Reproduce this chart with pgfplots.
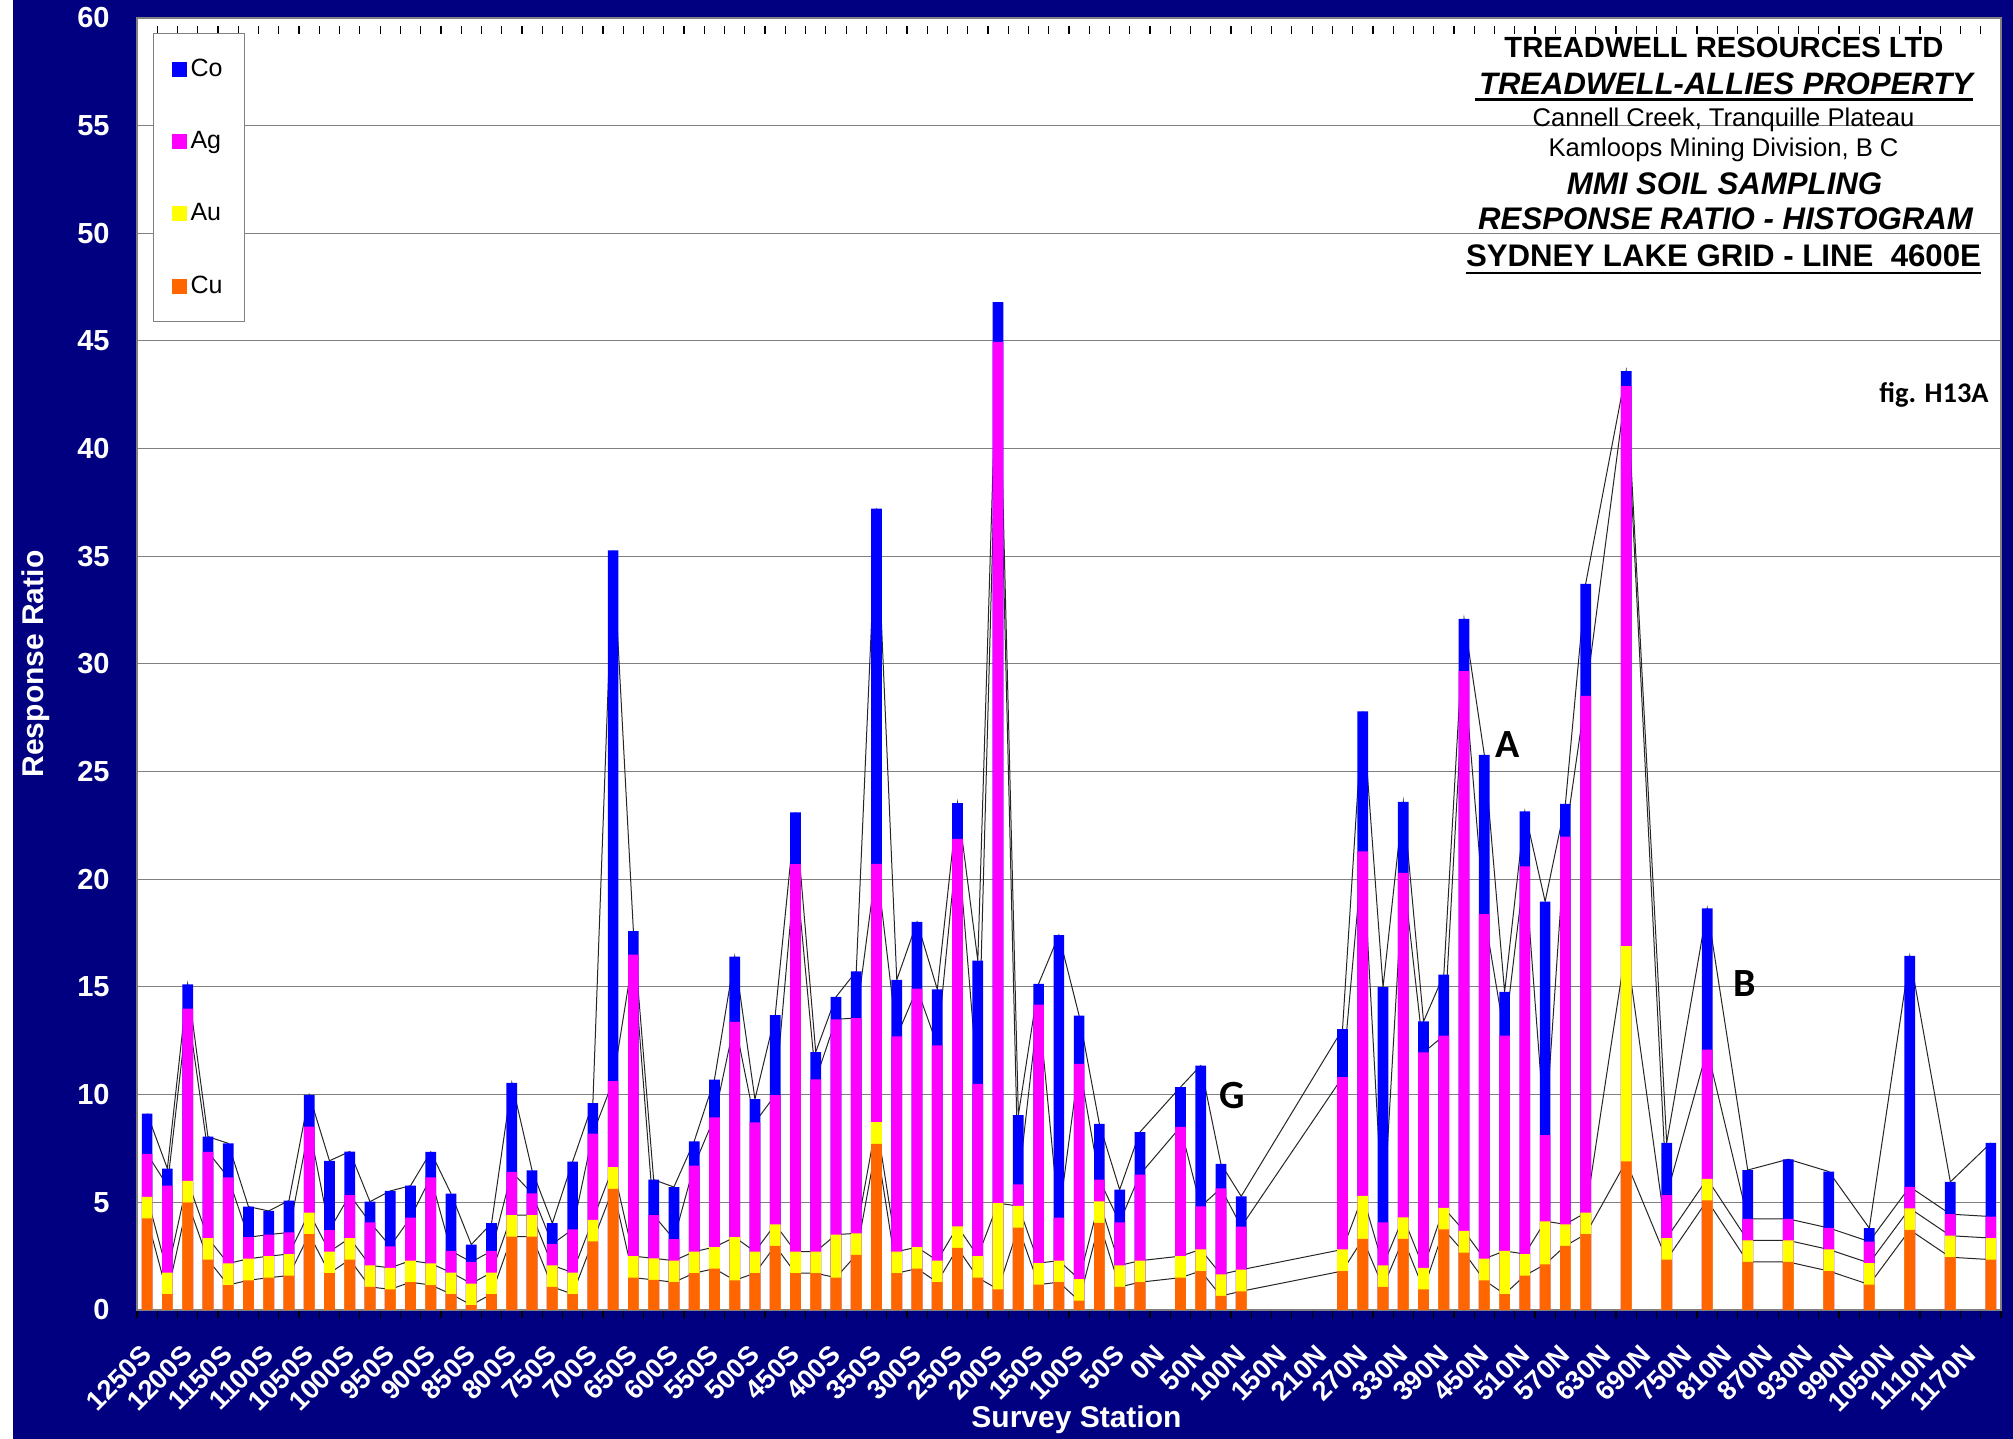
\documentclass[border=0pt]{standalone}
\usepackage{fontspec}
\setmainfont{Liberation Sans}
\newfontfamily\calibri{Carlito}
\usepackage{pgfplots}
\usepackage{pgfplotstable}
\pgfplotsset{compat=1.18}

\definecolor{navybg}{HTML}{000080}
\definecolor{co}{HTML}{0000FF}
\definecolor{ag}{HTML}{FF00FF}
\definecolor{au}{HTML}{FFFF00}
\definecolor{cu}{HTML}{FF6600}
\definecolor{gridgray}{HTML}{808080}

% x = station index (0 = 1250S ... 91 = 1200N), segment values per element
\pgfplotstableread{
x  cu   au   ag    co
0  4.25 1.0  2.0   1.87
1  0.74 1.0  4.03  0.80
2  5.00 1.0  8.0   1.12
3  2.34 1.0  4.0   0.71
4  1.16 1.0  4.0   1.58
5  1.38 1.0  1.0   1.42
6  1.50 1.0  1.0   1.10
7  1.60 1.0  1.0   1.48
8  3.52 1.0  4.0   1.47
9  1.71 1.0  1.0   3.22
10 2.34 1.0  2.0   2.02
11 1.07 1.0  2.0   0.96
12 0.96 1.0  1.0   2.57
13 1.29 1.0  2.0   1.48
14 1.16 1.0  4.0   1.18
15 0.74 1.0  1.0   2.66
16 0.23 1.0  1.0   0.81
17 0.74 1.0  1.0   1.29
18 3.41 1.0  2.0   4.14
19 3.41 1.0  1.0   1.07
20 1.07 1.0  1.0   0.96
21 0.74 1.0  2.0   3.15
22 3.19 1.0  4.0   1.42
23 5.63 1.0  4.0   24.65
24 1.50 1.0  14.0  1.10
25 1.40 1.0  2.0   1.65
26 1.29 1.0  1.0   2.42
27 1.71 1.0  4.0   1.12
28 1.92 1.0  6.03  1.75
29 1.38 2.0  10.0  3.03
30 1.71 1.0  6.0   1.08
31 2.98 1.0  6.0   3.71
32 1.71 1.0  18.0  2.40
33 1.71 1.0  8.0   1.27
34 1.50 2.0  10.0  1.04
35 2.56 1.0  10.0  2.17
36 7.72 1.0  12.0  16.5
37 1.71 1.0  10.0  2.62
38 1.92 1.0  12.0  3.10
39 1.29 1.0  10.0  2.60
40 2.88 1.0  18.0  1.66
41 1.50 1.0  8.0   5.72
42 0.96 4.0  40.0  1.85
43 3.83 1.0  1.0   3.22
44 1.18 1.0  12.0  0.97
45 1.29 1.0  2.0   13.12
46 0.43 1.0  10.0  2.24
47 4.05 1.0  1.0   2.59
48 1.07 1.0  2.0   1.52
49 1.29 1.0  4.0   1.97
51 1.50 1.0  6.0   1.85
52 1.81 1.0  2.0   6.54
53 0.65 1.0  4.0   1.13
54 0.87 1.0  2.0   1.41
59 1.81 1.0  8.0   2.23
60 3.30 2.0  16.0  6.50
61 1.07 1.0  2.0   10.92
62 3.30 1.0  16.0  3.30
63 0.96 1.0  10.0  1.44
64 3.74 1.0  8.0   2.83
65 2.67 1.0  26.0  2.42
66 1.38 1.0  16.0  7.40
67 0.74 2.0  10.0  2.03
68 1.60 1.0  18.0  2.55
69 2.12 2.0  4.0   10.85
70 2.98 1.0  18.0  1.52
71 3.52 1.0  24.0  5.20
73 6.90 10.0 26.0  0.70
75 2.34 1.0  2.0   2.42
77 5.09 1.0  6.0   6.56
79 2.23 1.0  1.0   2.27
81 2.23 1.0  1.0   2.77
83 1.81 1.0  1.0   2.62
85 1.18 1.0  1.0   0.62
87 3.72 1.0  1.0   10.73
89 2.45 1.0  1.0   1.50
91 2.34 1.0  1.0   3.42
}\stations

\begin{document}
\begin{tikzpicture}
\path[use as bounding box, fill=white] (0,0) rectangle (1006.5pt,719.5pt);
\fill[navybg] (6.5pt,0) rectangle (1006.5pt,719.5pt);

\begin{axis}[
    at={(68.5pt,64.5pt)}, anchor=south west,
    scale only axis,
    width=932pt, height=646pt,
    xmin=-0.5, xmax=91.5,
    ymin=0, ymax=60,
    axis background/.style={fill=white},
    axis line style={gridgray, line width=1pt},
    no markers,
    ytick={0,5,...,60},
    ytick style={draw=none},
    ymajorgrids=true,
    major grid style={gridgray, line width=0.5pt},
    xtick={0,2,...,90},
    xticklabels={1250S,1200S,1150S,1100S,1050S,1000S,950S,900S,850S,800S,750S,700S,650S,600S,550S,500S,450S,400S,350S,300S,250S,200S,150S,100S,50S,0N,50N,100N,150N,210N,270N,330N,390N,450N,510N,570N,630N,690N,750N,810N,870N,930N,990N,1050N,1110N,1170N},
    major x tick style={draw=none},
    minor xtick={-0.5,0.5,...,91.5},
    minor tick length=4pt,
    minor x tick style={black, line width=0.6pt, yshift=-4pt},
    /pgf/number format/assume math mode=true,
    ticklabel style={font=\bfseries\fontsize{14.5}{16}\selectfont, text=white, inner sep=0pt},
    yticklabel style={xshift=-13.5pt},
    xticklabel style={font=\bfseries\fontsize{13.6}{15}\selectfont, xshift=0pt, yshift=-20pt, rotate=45, anchor=east},
    xlabel={Survey Station},
    ylabel={Response Ratio},
    label style={font=\bfseries\fontsize{15}{17}\selectfont, text=white, inner sep=0pt},
    xlabel style={at={(axis description cs:0.504,-0.0913)}, anchor=base},
    ylabel style={at={(axis description cs:-0.0542,0.5)}, anchor=center},
    legend image code/.code={\fill[#1] (0pt,-3.75pt) rectangle (7.5pt,3.75pt);},
    legend cell align=left,
    legend style={at={(rel axis cs:0.0086,0.988)}, anchor=north west,
        draw=gridgray, line width=0.5pt, fill=white,
        font=\fontsize{12.5}{14}\selectfont,
        inner xsep=9pt, inner ysep=10.5pt, row sep=22pt},
]

% series lines joining the segment tops
\addplot[forget plot, black!85, line width=0.5pt] table[x=x, y=cu] {\stations};
\addplot[forget plot, black!85, line width=0.5pt] table[x=x, y expr=\thisrow{cu}+\thisrow{au}] {\stations};
\addplot[forget plot, black!85, line width=0.5pt] table[x=x, y expr=\thisrow{cu}+\thisrow{au}+\thisrow{ag}] {\stations};
\addplot[forget plot, black!85, line width=0.5pt] table[x=x, y expr=\thisrow{cu}+\thisrow{au}+\thisrow{ag}+\thisrow{co}] {\stations};

% stacked bars drawn as overlapping cumulative bars
\addplot[ybar, bar width=5.35pt, bar shift=0pt, fill=co, draw=none]
    table[x=x, y expr=\thisrow{cu}+\thisrow{au}+\thisrow{ag}+\thisrow{co}] {\stations};
\addlegendentry{Co}
\addplot[ybar, bar width=5.35pt, bar shift=0pt, fill=ag, draw=none]
    table[x=x, y expr=\thisrow{cu}+\thisrow{au}+\thisrow{ag}] {\stations};
\addlegendentry{Ag}
\addplot[ybar, bar width=5.35pt, bar shift=0pt, fill=au, draw=none]
    table[x=x, y expr=\thisrow{cu}+\thisrow{au}] {\stations};
\addlegendentry{Au}
\addplot[ybar, bar width=5.35pt, bar shift=0pt, fill=cu, draw=none]
    table[x=x, y=cu] {\stations};
\addlegendentry{Cu}

\node[font=\calibri\bfseries\fontsize{20}{22}\selectfont, inner sep=0pt] at (axis cs:67.17,26.24) {A};
\node[font=\calibri\bfseries\fontsize{20}{22}\selectfont, inner sep=0pt] at (axis cs:78.87,15.14) {B};
\node[font=\calibri\bfseries\fontsize{20}{22}\selectfont, inner sep=0pt] at (axis cs:53.55,9.94) {G};
\end{axis}

% title block, positions in reference pixels
\begin{scope}[x=0.5pt, y=-0.5pt, yshift=719.5pt, every node/.style={inner sep=0pt}]
\node[anchor=base, font=\bfseries\fontsize{14.6}{16}\selectfont] at (1724,58) {TREADWELL RESOURCES LTD};
\node[anchor=base, font=\bfseries\itshape\fontsize{15.5}{17}\selectfont] (t2) at (1726,95) {TREADWELL-ALLIES PROPERTY};
\draw[line width=1.3pt] ([xshift=-2pt,yshift=-2.2pt]t2.base west) -- ([yshift=-2.2pt]t2.base east);
\node[anchor=base, font=\fontsize{12.8}{14}\selectfont] at (1723.5,127) {Cannell Creek, Tranquille Plateau};
\node[anchor=base, font=\fontsize{12.8}{14}\selectfont] at (1723.5,157) {Kamloops Mining Division, B C};
\node[anchor=base, font=\bfseries\itshape\fontsize{15.6}{17}\selectfont] at (1724.5,195) {MMI SOIL SAMPLING};
\node[anchor=base, font=\bfseries\itshape\fontsize{15.6}{17}\selectfont] at (1725.5,230) {RESPONSE RATIO - HISTOGRAM};
\node[anchor=base, font=\bfseries\fontsize{15.6}{17}\selectfont] (t7) at (1723.5,267) {SYDNEY LAKE GRID - LINE\ \ 4600E};
\draw[line width=1.3pt] ([yshift=-3pt]t7.base west) -- ([yshift=-3pt]t7.base east);
\node[anchor=base east, font=\calibri\bfseries\fontsize{14.2}{16}\selectfont] at (1989,403) {fig. H13A};
\end{scope}
\end{tikzpicture}
\end{document}
